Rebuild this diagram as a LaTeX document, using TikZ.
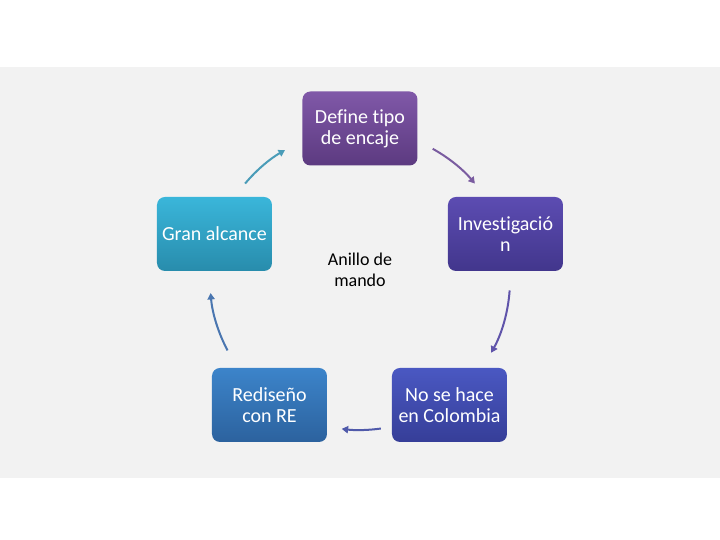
\documentclass[tikz,border=0pt]{standalone}
\usepackage{fontspec}
\setmainfont{Carlito}[Ligatures=CommonOff]
\usepackage{tikz}
\usetikzlibrary{arrows.meta, positioning}
\definecolor{band}{HTML}{F2F2F2}
\tikzset{>/.tip={Triangle[length=3.2pt,width=3.6pt]}}
\tikzset{box/.style={rounded corners=4pt, minimum width=57.5pt, minimum height=37pt,
  text=white, align=center, font=\fontsize{10}{10.5}\selectfont, inner sep=1pt}}
\tikzset{ring/.style={line width=1pt, ->}}
\begin{document}
\begin{tikzpicture}[x=0.5pt, y=0.5pt]
\useasboundingbox (0,0) rectangle (720,540);
\fill[band] (0,62) rectangle (720,473);
\coordinate (c) at (360,260);
\node[box, top color={rgb,255:red,128;green,88;blue,168}, bottom color={rgb,255:red,92;green,58;blue,128}] (def) at (360,411.5) {Define tipo\\de encaje};
\node[box, top color={rgb,255:red,58;green,182;blue,218}, bottom color={rgb,255:red,40;green,140;blue,172}] (gran) at (214.5,306) {Gran alcance};
\node[box, top color={rgb,255:red,92;green,76;blue,178}, bottom color={rgb,255:red,66;green,54;blue,140}] (inv) at (505.5,306) {Investigació\\n};
\node[box, top color={rgb,255:red,60;green,132;blue,202}, bottom color={rgb,255:red,44;green,98;blue,158}] (red) at (269.5,135) {Rediseño\\con RE};
\node[box, top color={rgb,255:red,74;green,88;blue,194}, bottom color={rgb,255:red,54;green,62;blue,152}] (nose) at (449.5,135) {No se hace\\en Colombia};
\node[align=center, font=\fontsize{9}{10.5}\selectfont] (ani) at (360,270) {Anillo de\\mando};
% ring of arrows
\path (c) ++(140:150) coordinate (g1);
\path (c) ++(61:150) coordinate (d1);
\path (c) ++(-4:150) coordinate (i1);
\path (c) ++(-82:150) coordinate (n1);
\path (c) ++(208:150) coordinate (r1);
\draw[ring, color={rgb,255:red,74;green,156;blue,184}] (g1) arc[start angle=140, end angle=120, radius=150];
\draw[ring, color={rgb,255:red,122;green,92;blue,160}] (d1) arc[start angle=61, end angle=40, radius=150];
\draw[ring, color={rgb,255:red,96;green,84;blue,170}] (i1) arc[start angle=-4, end angle=-29, radius=150];
\draw[ring, color={rgb,255:red,80;green,90;blue,170}] (n1) arc[start angle=-82, end angle=-97, radius=150];
\draw[ring, color={rgb,255:red,74;green,118;blue,176}] (r1) arc[start angle=208, end angle=185, radius=150];
\end{tikzpicture}
\end{document}
